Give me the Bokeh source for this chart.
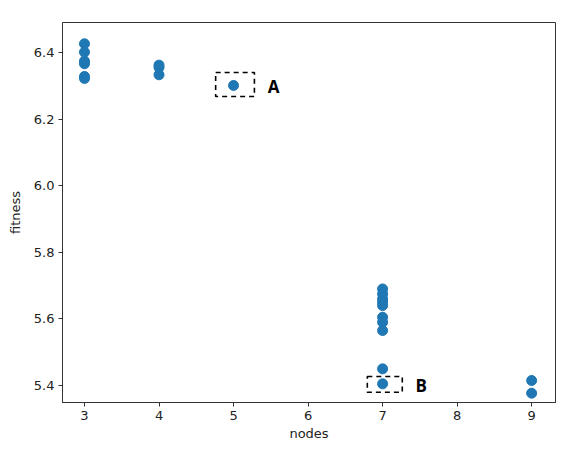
from bokeh.plotting import figure
from bokeh.models import Range1d, FixedTicker, ColumnDataSource
from bokeh.core.properties import value
from bokeh.embed import file_html
from bokeh.resources import INLINE

# Data
nodes = [3, 3, 3, 3, 3, 3,
         4, 4, 4,
         5,
         7, 7, 7, 7, 7, 7, 7, 7, 7, 7,
         9, 9]
fitness = [6.426, 6.401, 6.374, 6.366, 6.328, 6.322,
           6.362, 6.355, 6.333,
           6.301,
           5.690, 5.675, 5.660, 5.650, 5.640, 5.605, 5.590, 5.565, 5.450, 5.405,
           5.415, 5.377]

x_ticks = [3, 4, 5, 6, 7, 8, 9]
y_ticks = [5.4, 5.6, 5.8, 6.0, 6.2, 6.4]

# Annotation boxes (data coords) and labels
box_left = [4.76, 6.795]
box_right = [5.28, 7.264]
box_bottom = [6.268, 5.380]
box_top = [6.340, 5.427]
label_text = ["A", "B"]
label_x = [5.46, 7.44]
label_y = [6.298, 5.400]

p = figure(width=571, height=444, output_backend="svg", toolbar_location=None,
           x_range=Range1d(2.705, 9.32), y_range=Range1d(5.349, 6.49),
           min_border_left=62, min_border_top=22, min_border_right=16, min_border_bottom=42)

p.background_fill_color = "white"
p.border_fill_color = "white"
p.outline_line_color = "#333333"
p.outline_line_width = 1
p.xgrid.visible = False
p.ygrid.visible = False

for ax in (p.xaxis[0], p.yaxis[0]):
    ax.major_label_text_font = "DejaVu Sans"
    ax.major_label_text_font_size = "13px"
    ax.major_label_text_color = "#222222"
    ax.axis_label_text_font = "DejaVu Sans"
    ax.axis_label_text_font_size = "13px"
    ax.axis_label_text_font_style = "normal"
    ax.axis_label_text_color = "#222222"
    ax.major_tick_in = 0
    ax.major_tick_out = 4
    ax.minor_tick_line_color = None
    ax.axis_line_color = "#333333"
    ax.major_tick_line_color = "#333333"

p.xaxis.ticker = FixedTicker(ticks=x_ticks)
p.yaxis.ticker = FixedTicker(ticks=y_ticks)
p.yaxis.major_label_overrides = {t: f"{t:.1f}" for t in y_ticks}
p.xaxis.axis_label = "nodes"
p.yaxis.axis_label = "fitness"
p.xaxis.axis_label_standoff = 3
p.yaxis.axis_label_standoff = 8
p.xaxis.major_label_standoff = 4
p.yaxis.major_label_standoff = 4

src = ColumnDataSource(dict(x=nodes, y=fitness))
p.scatter("x", "y", source=src, size=10, fill_color="#1f77b4", line_color="#1f77b4")

bsrc = ColumnDataSource(dict(left=box_left, right=box_right, bottom=box_bottom, top=box_top))
p.quad(left="left", right="right", bottom="bottom", top="top", source=bsrc,
       fill_color=None, line_color="black", line_width=1.6, line_dash="5 4")

lsrc = ColumnDataSource(dict(x=label_x, y=label_y, t=label_text))
p.text(x="x", y="y", text="t", source=lsrc, text_font=value("Open Sans"),
       text_font_style="bold", text_font_size="17px", text_baseline="middle",
       text_align="left", text_color="black")

open("out.html", "w").write(file_html(p, INLINE))
